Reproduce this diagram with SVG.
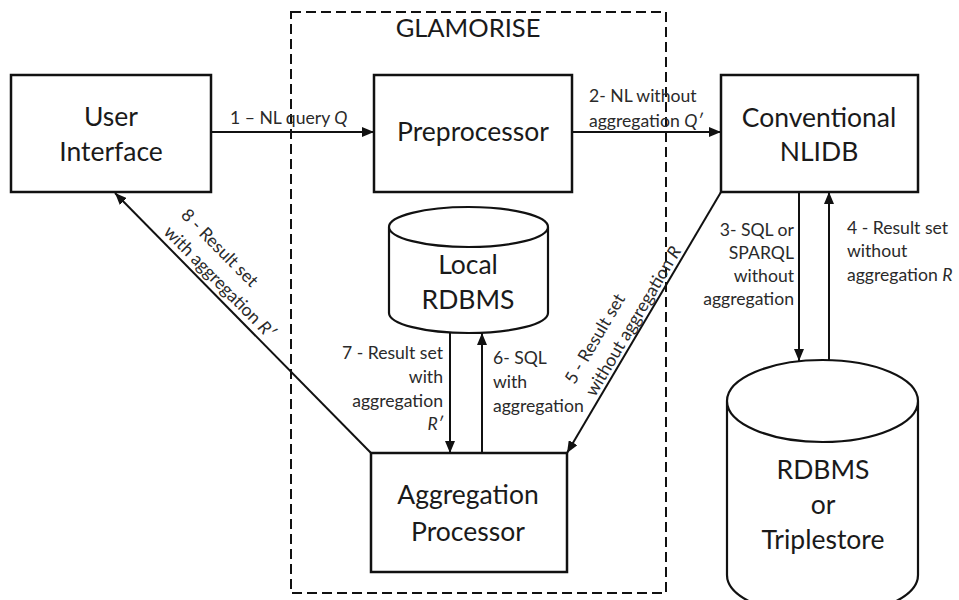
<svg xmlns="http://www.w3.org/2000/svg" width="959" height="600" viewBox="0 0 959 600">
<style>
.box{fill:#fff;stroke:#111;stroke-width:2.5}
.cyl{fill:#fff;stroke:#111;stroke-width:2.2}
.node{font-family:Lato,"Liberation Sans",sans-serif;font-size:26.5px;fill:#1a1a1a;text-anchor:middle}
.lbl{font-family:Lato,"Liberation Sans",sans-serif;font-size:17.6px;fill:#2a2a2a}
.conn{stroke:#111;stroke-width:2;fill:none}
.it{font-style:italic}
</style>
<defs>
<marker id="ah" markerWidth="12" markerHeight="10" refX="12" refY="5" orient="auto" markerUnits="userSpaceOnUse">
<path d="M0,0 L12,5 L0,10 z" fill="#111"/>
</marker>
</defs>
<rect width="959" height="600" fill="#fff"/>
<g id="glamorise">
<rect x="291" y="12" width="375" height="581" fill="none" stroke="#111" stroke-width="2" stroke-dasharray="10 5"/>
<text class="node" x="468" y="37" style="font-size:25.5px">GLAMORISE</text>
</g>
<g id="user-interface">
<rect class="box" x="11" y="75" width="200" height="117"/>
<text class="node" x="111" y="126">User</text>
<text class="node" x="111" y="161">Interface</text>
</g>
<g id="preprocessor">
<rect class="box" x="374" y="75" width="198" height="117"/>
<text class="node" x="473" y="141">Preprocessor</text>
</g>
<g id="nlidb">
<rect class="box" x="721" y="75" width="197" height="117"/>
<text class="node" x="819" y="127">Conventional</text>
<text class="node" x="819" y="161">NLIDB</text>
</g>
<g id="local-rdbms">
<path class="cyl" d="M389,227 L389,313 A79.5,20 0 0 0 548,313 L548,227 A79.5,20 0 0 0 389,227 A79.5,20 0 0 0 548,227"/>
<text class="node" x="468" y="274">Local</text>
<text class="node" x="468" y="309">RDBMS</text>
</g>
<g id="aggregation-processor">
<rect class="box" x="371" y="453" width="196" height="119"/>
<text class="node" x="468" y="504">Aggregation</text>
<text class="node" x="468" y="541">Processor</text>
</g>
<g id="rdbms-triplestore">
<path class="cyl" d="M727,401 L727,575 A95.5,41 0 0 0 918,575 L918,401 A95.5,41 0 0 0 727,401 A95.5,41 0 0 0 918,401"/>
<text class="node" x="823" y="479">RDBMS</text>
<text class="node" x="823" y="514">or</text>
<text class="node" x="823" y="549">Triplestore</text>
</g>
<g id="connectors">
<line class="conn" x1="211" y1="132" x2="374" y2="132" marker-end="url(#ah)"/>
<line class="conn" x1="572" y1="132" x2="721" y2="132" marker-end="url(#ah)"/>
<line class="conn" x1="799" y1="192" x2="799" y2="361" marker-end="url(#ah)"/>
<line class="conn" x1="829" y1="360" x2="829" y2="192" marker-end="url(#ah)"/>
<line class="conn" x1="721" y1="192" x2="567" y2="453" marker-end="url(#ah)"/>
<line class="conn" x1="482" y1="453" x2="482" y2="333" marker-end="url(#ah)"/>
<line class="conn" x1="450" y1="333" x2="450" y2="453" marker-end="url(#ah)"/>
<line class="conn" x1="371" y1="453" x2="115" y2="193" marker-end="url(#ah)"/>
<text class="lbl" x="230" y="124">1 – NL query <tspan class="it">Q</tspan></text>
<text class="lbl" x="589" y="102">2- NL without</text>
<text class="lbl" x="589" y="127">aggregation <tspan class="it">Q′</tspan></text>
<g class="lbl" text-anchor="end">
<text x="794" y="236">3- SQL or</text>
<text x="794" y="259">SPARQL</text>
<text x="794" y="282">without</text>
<text x="794" y="305">aggregation</text>
</g>
<text class="lbl" x="847" y="234">4 - Result set</text>
<text class="lbl" x="847" y="257">without</text>
<text class="lbl" x="847" y="281">aggregation <tspan class="it">R</tspan></text>
<g class="lbl" text-anchor="end">
<text x="443" y="359">7 - Result set</text>
<text x="443" y="383">with</text>
<text x="443" y="407">aggregation</text>
<text x="443" y="430" class="it">R′</text>
</g>
<text class="lbl" x="493" y="364">6- SQL</text>
<text class="lbl" x="493" y="388">with</text>
<text class="lbl" x="493" y="412">aggregation</text>
<g transform="translate(567,453) rotate(-59.46)">
<text class="lbl" x="62" y="-28">5 - Result set</text>
<text class="lbl" x="62" y="-4">without aggregation <tspan class="it">R</tspan></text>
</g>
<g transform="translate(115,193) rotate(45.4)">
<text class="lbl" x="62" y="-30">8 - Result set</text>
<text class="lbl" x="62" y="-6">with aggregation <tspan class="it">R′</tspan></text>
</g>
</g>
</svg>
